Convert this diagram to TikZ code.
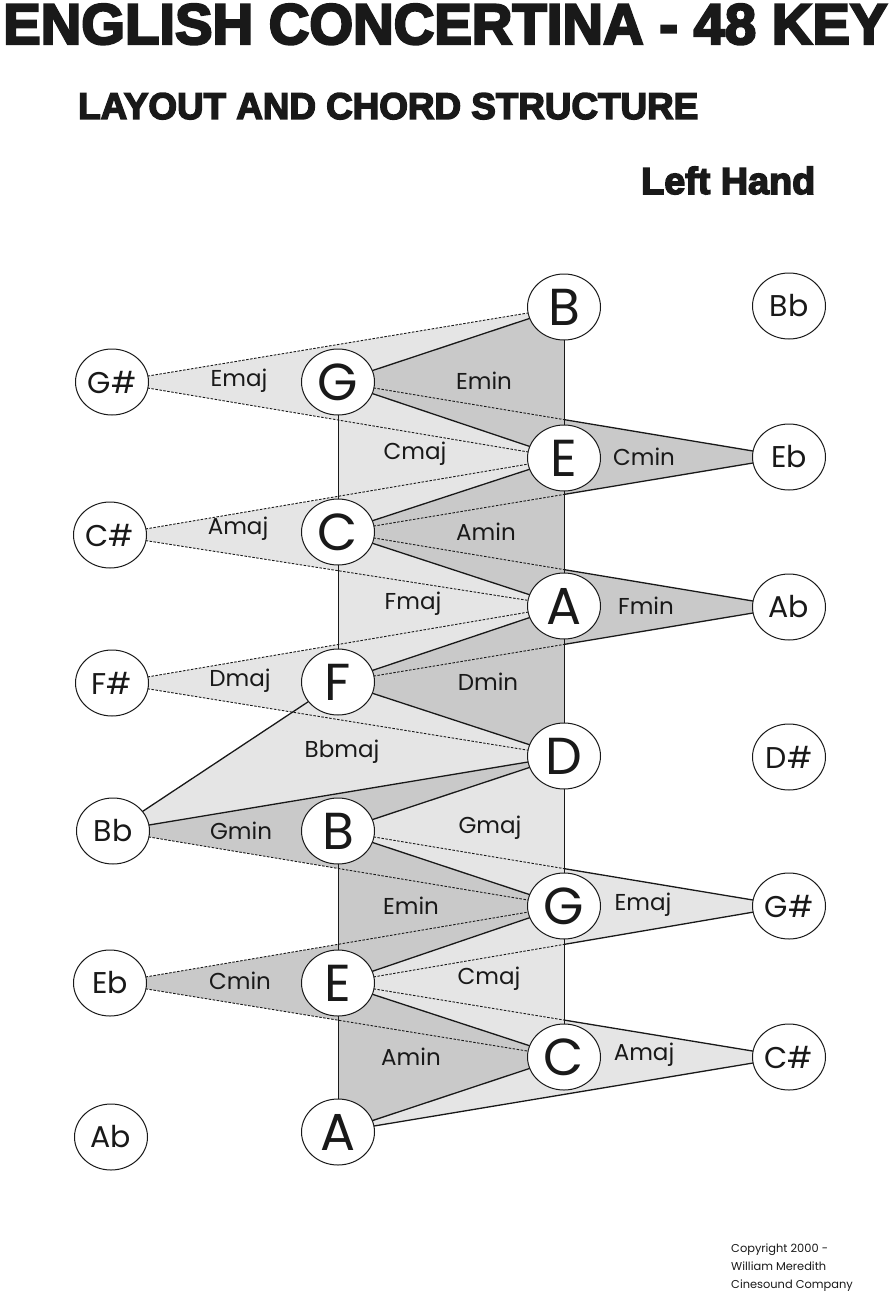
\documentclass[tikz,border=0pt]{standalone}
\usepackage{fontspec}
\setmainfont{Poppins}
\newfontfamily\heavyfont{Liberation Sans}[BoldFeatures={FakeBold=4}]
\usetikzlibrary{shapes.geometric,calc}
\pgfdeclarelayer{fills}
\pgfdeclarelayer{lines}
\pgfsetlayers{fills,lines,main}
\definecolor{lightg}{gray}{0.90}
\definecolor{darkg}{gray}{0.79}
\definecolor{ink}{gray}{0.1}
\begin{document}
\begin{tikzpicture}[x=1pt,y=-1pt,
  key/.style={ellipse, draw=ink, line width=1pt, fill=white, minimum width=73pt, minimum height=66pt, inner sep=0pt, text=ink},
  big/.style={key, font=\fontsize{52}{52}\selectfont},
  small/.style={key, font=\fontsize{30}{30}\selectfont},
  chord/.style={font=\fontsize{23}{23}\selectfont, text=ink, inner sep=0pt},
  edge/.style={draw=ink, line width=1.3pt},
  hid/.style={draw=ink, line width=0.9pt, dash pattern=on 2.5pt off 1.5pt},
  spine/.style={draw=ink, line width=0.8pt},
  lt/.style={fill=lightg}, dk/.style={fill=darkg}]
\useasboundingbox (0,0) rectangle (890,1300);

% titles
\node[anchor=base west, inner sep=0pt, text=ink] (title) at (3,44)
  {\resizebox{884pt}{40pt}{\heavyfont\bfseries ENGLISH CONCERTINA - 48 KEY}};
\node[anchor=base west, inner sep=0pt, text=ink] (sub) at (78,119)
  {\resizebox{620pt}{26pt}{\heavyfont\bfseries LAYOUT AND CHORD STRUCTURE}};
\node[anchor=base west, inner sep=0pt, text=ink] (hand) at (641,194)
  {\resizebox{174pt}{!}{\heavyfont\bfseries Left Hand}};

% keys: column 1
\node[small] (Gs1) at (112,382) {G\#};
\node[small] (Cs1) at (110,535) {C\#};
\node[small] (Fs1) at (112,683) {F\#};
\node[small] (Bb1) at (113,831) {Bb};
\node[small] (Eb1) at (110,983) {Eb};
\node[small] (Ab1) at (111,1137) {Ab};
% column 2
\node[big] (G2) at (338,382) {G};
\node[big] (C2) at (338,532) {C};
\node[big] (F2) at (338,682) {F};
\node[big] (B2) at (338,831) {B};
\node[big] (E2) at (338,983) {E};
\node[big] (A2) at (338,1132) {A};
% column 3
\node[big] (B3) at (564,307) {B};
\node[big] (E3) at (564,458) {E};
\node[big] (A3) at (564,606) {A};
\node[big] (D3) at (564,756) {D};
\node[big] (G3) at (564,906) {G};
\node[big] (C3) at (564,1057) {C};
% column 4
\node[small] (Bb4) at (789,306) {Bb};
\node[small] (Eb4) at (789,457) {Eb};
\node[small] (Ab4) at (789,607) {Ab};
\node[small] (Ds4) at (789,757) {D\#};
\node[small] (Gs4) at (789,906) {G\#};
\node[small] (Cs4) at (789,1057) {C\#};

% crossing points on column 3
\coordinate (k1) at (intersection of G2--Eb4 and B3--C3);
\coordinate (k2) at (intersection of C2--Eb4 and B3--C3);
\coordinate (k3) at (intersection of C2--Ab4 and B3--C3);
\coordinate (k4) at (intersection of F2--Ab4 and B3--C3);
\coordinate (k5) at (intersection of B2--Gs4 and B3--C3);
\coordinate (k6) at (intersection of E2--Gs4 and B3--C3);
\coordinate (k7) at (intersection of E2--Cs4 and B3--C3);

\begin{pgfonlayer}{fills}
\fill[white] (0,0) rectangle (890,1300);
% far triangles
\fill[lt] (Gs1.center) -- (B3.center) -- (E3.center) -- cycle;
\fill[dk] (G2.center) -- (Eb4.center) -- (C2.center) -- cycle;
\fill[lt] (Cs1.center) -- (E3.center) -- (A3.center) -- cycle;
\fill[dk] (C2.center) -- (Ab4.center) -- (F2.center) -- cycle;
\fill[lt] (Fs1.center) -- (A3.center) -- (D3.center) -- cycle;
\fill[dk] (Bb1.center) -- (D3.center) -- (G3.center) -- cycle;
\fill[lt] (B2.center) -- (Gs4.center) -- (E2.center) -- cycle;
\fill[dk] (Eb1.center) -- (G3.center) -- (C3.center) -- cycle;
\fill[lt] (E2.center) -- (Cs4.center) -- (A2.center) -- cycle;
% near triangles
\fill[dk] (G2.center) -- (B3.center) -- (E3.center) -- cycle;
\fill[lt] (G2.center) -- (E3.center) -- (C2.center) -- cycle;
\fill[dk] (C2.center) -- (E3.center) -- (A3.center) -- cycle;
\fill[lt] (C2.center) -- (A3.center) -- (F2.center) -- cycle;
\fill[dk] (F2.center) -- (A3.center) -- (D3.center) -- cycle;
\fill[lt] (Bb1.center) -- (F2.center) -- (D3.center) -- cycle;
\fill[lt] (B2.center) -- (D3.center) -- (G3.center) -- cycle;
\fill[dk] (B2.center) -- (G3.center) -- (E2.center) -- cycle;
\fill[lt] (E2.center) -- (G3.center) -- (C3.center) -- cycle;
\fill[dk] (E2.center) -- (C3.center) -- (A2.center) -- cycle;
\end{pgfonlayer}

\begin{pgfonlayer}{lines}
% spines
\draw[spine] (B3.center) -- (C3.center);
\draw[spine] (G2.center) -- (F2.center);
\draw[spine] (B2.center) -- (A2.center);
% hidden (dashed) edges
\draw[hid] (Gs1.center) -- (B3.center);
\draw[hid] (Gs1.center) -- (E3.center);
\draw[hid] (Cs1.center) -- (E3.center);
\draw[hid] (Cs1.center) -- (A3.center);
\draw[hid] (Fs1.center) -- (A3.center);
\draw[hid] (Fs1.center) -- (D3.center);
\draw[hid] (Bb1.center) -- (G3.center);
\draw[hid] (Eb1.center) -- (G3.center);
\draw[hid] (Eb1.center) -- (C3.center);
\draw[hid] (G2.center) -- (k1); \draw[edge] (k1) -- (Eb4.center);
\draw[hid] (C2.center) -- (k2); \draw[edge] (k2) -- (Eb4.center);
\draw[hid] (C2.center) -- (k3); \draw[edge] (k3) -- (Ab4.center);
\draw[hid] (F2.center) -- (k4); \draw[edge] (k4) -- (Ab4.center);
\draw[hid] (B2.center) -- (k5); \draw[edge] (k5) -- (Gs4.center);
\draw[hid] (E2.center) -- (k6); \draw[edge] (k6) -- (Gs4.center);
\draw[hid] (E2.center) -- (k7); \draw[edge] (k7) -- (Cs4.center);
% solid edges
\draw[edge] (G2.center) -- (B3.center);
\draw[edge] (G2.center) -- (E3.center);
\draw[edge] (C2.center) -- (E3.center);
\draw[edge] (C2.center) -- (A3.center);
\draw[edge] (F2.center) -- (A3.center);
\draw[edge] (F2.center) -- (D3.center);
\draw[edge] (Bb1.center) -- (F2.center);
\draw[edge] (Bb1.center) -- (D3.center);
\draw[edge] (B2.center) -- (D3.center);
\draw[edge] (B2.center) -- (G3.center);
\draw[edge] (E2.center) -- (G3.center);
\draw[edge] (E2.center) -- (C3.center);
\draw[edge] (A2.center) -- (C3.center);
\draw[edge] (A2.center) -- (Cs4.center);
\end{pgfonlayer}

% chord labels
\node[chord] (l1) at (239,381) {Emaj};
\node[chord] (l2) at (484,381) {Emin};
\node[chord] (l3) at (415,454) {Cmaj};
\node[chord] (l4) at (644,457) {Cmin};
\node[chord] (l5) at (238,529) {Amaj};
\node[chord] (l6) at (486,532) {Amin};
\node[chord] (l7) at (413,604) {Fmaj};
\node[chord] (l8) at (646,606) {Fmin};
\node[chord] (l9) at (240,681) {Dmaj};
\node[chord] (l10) at (488,682) {Dmin};
\node[chord] (l11) at (342,752) {Bbmaj};
\node[chord] (l12) at (241,831) {Gmin};
\node[chord] (l13) at (490,828) {Gmaj};
\node[chord] (l14) at (411,906) {Emin};
\node[chord] (l15) at (643,905) {Emaj};
\node[chord] (l16) at (240,981) {Cmin};
\node[chord] (l17) at (489,979) {Cmaj};
\node[chord] (l18) at (411,1057) {Amin};
\node[chord] (l19) at (644,1055) {Amaj};

% copyright
\node[anchor=north west, align=left, inner sep=0pt, text=ink,
      font=\fontsize{11.4}{18}\selectfont] (copy) at (731,1244)
  {Copyright 2000 -\\William Meredith\\Cinesound Company};
\end{tikzpicture}
\end{document}
